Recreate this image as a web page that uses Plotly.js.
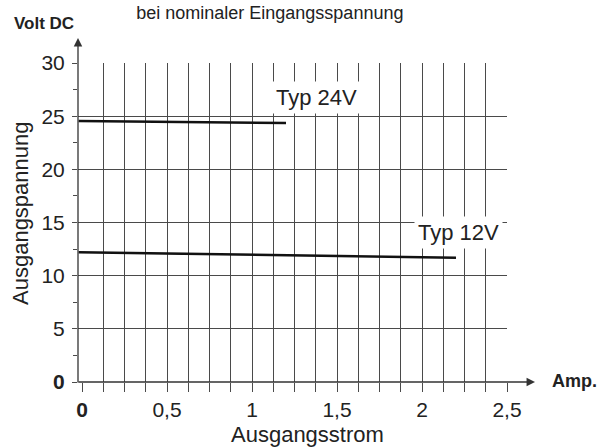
<!DOCTYPE html>
<html>
<head>
<meta charset="utf-8">
<script src="https://cdn.plot.ly/plotly-3.0.1.min.js"></script>
<style>html,body{margin:0;padding:0;background:#fff;}#chart{width:601px;height:448px;}</style>
</head>
<body>
<div id="chart"></div>
<script>
// Data
var current24 = [-0.02, 1.2];
var voltage24 = [24.55, 24.36];
var current12 = [-0.02, 2.2];
var voltage12 = [12.2, 11.69];

var xTickVals = [0, 0.125, 0.25, 0.375, 0.5, 0.625, 0.75, 0.875, 1, 1.125, 1.25, 1.375, 1.5, 1.625, 1.75, 1.875, 2, 2.125, 2.25, 2.375, 2.5];
var xTickText = ['<b>0</b>', '', '', '', '0,5', '', '', '', '1', '', '', '', '1,5', '', '', '', '2', '', '', '', '2,5'];
var yTickVals = [0, 5, 10, 15, 20, 25, 30];
var yTickText = ['<b>0</b>', '5', '10', '15', '20', '25', '30'];

var FONT = 'Liberation Sans, Arial, sans-serif';
var TXT = '#222';

var traces = [
  {x: current24, y: voltage24, mode: 'lines', line: {color: '#111', width: 2.5}, showlegend: false, hoverinfo: 'skip'},
  {x: current12, y: voltage12, mode: 'lines', line: {color: '#111', width: 2.5}, showlegend: false, hoverinfo: 'skip'}
];

function lab(x, y, text, size, extra) {
  var a = {xref: 'paper', yref: 'paper', x: x, y: y, text: text, showarrow: false,
           xanchor: 'center', yanchor: 'middle', font: {family: FONT, size: size, color: TXT}};
  for (var k in (extra || {})) a[k] = extra[k];
  return a;
}

var layout = {
  width: 601, height: 448,
  margin: {l: 78, r: 94, t: 63, b: 66, pad: 0},
  paper_bgcolor: '#fff', plot_bgcolor: '#fff',
  font: {family: FONT, color: TXT, size: 21},
  showlegend: false,
  title: {text: 'bei nominaler Eingangsspannung', font: {family: FONT, size: 18, color: TXT},
          x: 0.449, xref: 'container', xanchor: 'center', y: 0.972, yref: 'container', yanchor: 'middle'},
  xaxis: {
    range: [-0.0235, 2.5], fixedrange: true,
    tickmode: 'array', tickvals: xTickVals, ticktext: xTickText,
    ticks: 'outside', ticklen: 9, tickcolor: '#4a4a4a', tickwidth: 1,
    ticklabelstandoff: 0,
    showgrid: true, gridcolor: '#4a4a4a', gridwidth: 1,
    zeroline: true, zerolinecolor: 'rgba(0,0,0,0)',
    showline: false,
    tickfont: {family: FONT, size: 21, color: TXT}
  },
  yaxis: {
    range: [0, 30], fixedrange: true,
    tickmode: 'array', tickvals: yTickVals, ticktext: yTickText,
    ticks: 'outside', ticklen: 5, tickcolor: '#4a4a4a', tickwidth: 1,
    ticklabelstandoff: 3,
    showgrid: true, gridcolor: '#4a4a4a', gridwidth: 1,
    zeroline: false, showline: false,
    minor: {tick0: 0, dtick: 2.5, ticks: 'outside', ticklen: 4, tickcolor: '#4a4a4a', showgrid: false},
    tickfont: {family: FONT, size: 21, color: TXT}
  },
  annotations: [
    {xref: 'paper', yref: 'paper', x: 0, y: 1.078, ax: 0, ay: 346, axref: 'pixel', ayref: 'pixel',
     text: '', showarrow: true, arrowhead: 2, arrowsize: 1.3, arrowwidth: 1.3, arrowcolor: '#333'},
    {xref: 'paper', yref: 'paper', x: 1.0653, y: 0, ax: -458, ay: 0, axref: 'pixel', ayref: 'pixel',
     text: '', showarrow: true, arrowhead: 2, arrowsize: 1.3, arrowwidth: 1.3, arrowcolor: '#333'},
    {xref: 'x', yref: 'y', x: 1.382, y: 26.8, text: 'Typ 24V', showarrow: false,
     xanchor: 'center', yanchor: 'middle',
     bgcolor: '#fff', borderpad: 3, font: {family: FONT, size: 22, color: TXT}},
    {xref: 'x', yref: 'y', x: 2.212, y: 14.1, text: 'Typ 12V', showarrow: false,
     xanchor: 'center', yanchor: 'middle',
     bgcolor: '#fff', borderpad: 3, font: {family: FONT, size: 22, color: TXT}},
    lab(-0.0793, 1.125, '<b>Volt DC</b>', 17),
    lab(1.1585, 0.003, '<b>Amp.</b>', 18),
    lab(0.5338, -0.165, 'Ausgangsstrom', 22),
    lab(-0.1329, 0.5298, 'Ausgangspannung', 22, {textangle: -90})
  ]
};

Plotly.newPlot('chart', traces, layout, {staticPlot: true, displayModeBar: false});
</script>
</body>
</html>
